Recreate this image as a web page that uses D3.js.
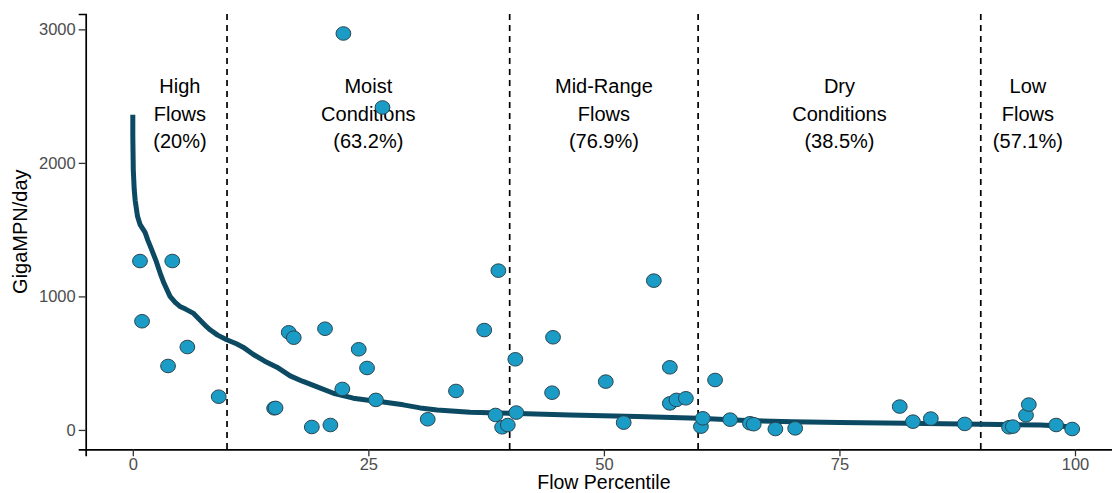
<!DOCTYPE html>
<html>
<head>
<meta charset="utf-8">
<script src="https://cdn.jsdelivr.net/npm/d3@7"></script>
<style>
  body { margin: 0; background: #fff; }
  text { font-family: "Liberation Sans", Arial, sans-serif; }
</style>
</head>
<body>
<div id="chart"></div>
<script>
let CHART_WIDTH = 1112;
let CHART_HEIGHT = 493;

// observed samples: flow percentile, GigaMPN/day
var sampleX = [0.76, 0.98, 3.74, 4.19, 5.79, 9.12,
	15.0, 15.15, 16.55, 17.08, 19.0, 20.4, 20.97, 22.24, 22.35, 23.98, 24.86, 25.8, 26.5,
	31.3, 34.3, 37.3, 38.5, 38.8, 39.2, 39.8, 40.6, 40.7, 44.5, 44.6,
	50.2, 52.1, 55.3, 57.0, 57.0, 57.7, 58.7, 60.3, 60.5, 61.8, 63.4,
	65.5, 65.9, 68.2, 70.3, 81.4, 82.8, 84.7, 88.3,
	93.0, 93.4, 94.8, 95.1, 98.0, 99.7];
var sampleY = [1265, 814, 479, 1265, 621, 249,
	162, 165, 731, 691, 22, 758, 37, 307, 2969, 604, 464, 225, 2415,
	80, 292, 748, 112, 1193, 20, 37, 529, 130, 279, 694,
	362, 55, 1118, 469, 199, 225, 237, 25, 87, 374, 77,
	50, 43, 7, 12, 175, 62, 85, 45,
	20, 25, 110, 190, 37, 7];

// load duration curve
var curveX = [0, 0, 0.05, 0.15, 0.25, 0.5, 0.76, 1.3, 1.6, 2.0, 2.5, 2.9, 3.3, 3.95, 4.5, 5.0,
	5.6, 6.4, 7.1, 7.8, 8.2, 9.0, 9.97, 11.0, 11.7, 12.8, 14.0, 15.3, 16.7, 18.0, 19.5,
	21.3, 23.4, 25.0, 26.0, 28.7, 30.5, 32.3, 35.8, 40, 46.4, 53.5, 60, 64.5, 70, 75,
	82.2, 90, 96.3, 98.5, 99.2];
var curveY = [2360, 2200, 1950, 1800, 1720, 1600, 1540, 1480, 1420, 1350, 1260, 1175, 1100, 1000, 955, 925,
	905, 875, 825, 775, 750, 710, 675, 645, 620, 565, 515, 470, 405, 365, 325,
	275, 238, 222, 215, 188, 165, 150, 132, 125, 112, 100, 87, 72, 62, 56,
	50, 42, 37, 30, 24];

var zoneBreaks = [10, 40, 60, 90];
var zoneCenters = [5, 25, 50, 75, 95];
var zoneNames = [["High", "Flows"], ["Moist", "Conditions"], ["Mid-Range", "Flows"], ["Dry", "Conditions"], ["Low", "Flows"]];
var zonePct = ["(20%)", "(63.2%)", "(76.9%)", "(38.5%)", "(57.1%)"];

var xTicks = [0, 25, 50, 75, 100];
var yTicks = [0, 1000, 2000, 3000];

const drawChart = () => {
	var svg = d3.select("#chart").append("svg")
		.attr("width", CHART_WIDTH)
		.attr("height", CHART_HEIGHT);

	var xScale = d3.scaleLinear().domain([-5, 105]).range([85.7, 1122.1]);
	var yScale = d3.scaleLinear().domain([-145, 3115]).range([449.3, 14]);

	// vertical zone separators
	svg.selectAll(".zone")
		.data(zoneBreaks)
		.enter().append("line")
		.attr("x1", d => xScale(d)).attr("x2", d => xScale(d))
		.attr("y1", yScale.range()[1]).attr("y2", yScale.range()[0])
		.attr("stroke", "#000")
		.attr("stroke-width", 1.7)
		.attr("stroke-dasharray", "6,5");

	// zone labels
	var labels = svg.selectAll(".zlabel")
		.data(zoneCenters)
		.enter().append("text")
		.attr("text-anchor", "middle")
		.attr("font-size", 20)
		.attr("fill", "#000");
	labels.each(function (d, i) {
		var t = d3.select(this);
		var lines = zoneNames[i].concat([zonePct[i]]);
		lines.forEach(function (s, j) {
			t.append("tspan")
				.attr("x", xScale(d))
				.attr("y", yScale(2522) + j * 27.5)
				.text(s);
		});
	});

	// curve
	var line = d3.line()
		.x(d => xScale(curveX[d]))
		.y(d => yScale(curveY[d]))
		.curve(d3.curveLinear);
	svg.append("path")
		.datum(d3.range(curveX.length))
		.attr("d", line)
		.attr("fill", "none")
		.attr("stroke", "#0b4a62")
		.attr("stroke-width", 5)
		.attr("stroke-linejoin", "round");

	// points
	svg.selectAll(".bubble")
		.data(d3.range(sampleX.length))
		.enter().append("ellipse")
		.attr("class", "bubble")
		.attr("cx", d => xScale(sampleX[d]))
		.attr("cy", d => yScale(sampleY[d]))
		.attr("rx", 7.4)
		.attr("ry", 6.8)
		.attr("fill", "#1a9cc7")
		.attr("stroke", "#2a4650")
		.attr("stroke-width", 1);

	// axes
	var xAxis = svg.append("g")
		.attr("transform", "translate(0," + yScale.range()[0] + ")")
		.call(d3.axisBottom(xScale).tickValues(xTicks).tickSize(7).tickPadding(2));
	var yAxis = svg.append("g")
		.attr("transform", "translate(" + xScale.range()[0] + ",0)")
		.call(d3.axisLeft(yScale).tickValues(yTicks).tickFormat(d3.format("d")).tickSize(7).tickPadding(3));
	[xAxis, yAxis].forEach(function (a) {
		a.select(".domain").attr("stroke", "#000").attr("stroke-width", 1.7);
		a.selectAll(".tick line").attr("stroke", "#333").attr("stroke-width", 1.3);
		a.selectAll(".tick text")
			.attr("fill", "#4d4d4d")
			.attr("font-size", 16.5)
			.attr("font-family", "Liberation Sans, Arial, sans-serif");
	});

	// axis titles
	svg.append("text")
		.attr("x", xScale(50))
		.attr("y", 489)
		.attr("text-anchor", "middle")
		.attr("font-size", 19.5)
		.text("Flow Percentile");
	svg.append("text")
		.attr("transform", "translate(27," + (yScale.range()[0] + yScale.range()[1]) / 2 + ") rotate(-90)")
		.attr("text-anchor", "middle")
		.attr("font-size", 20)
		.text("GigaMPN/day");
};

drawChart();
</script>
</body>
</html>
